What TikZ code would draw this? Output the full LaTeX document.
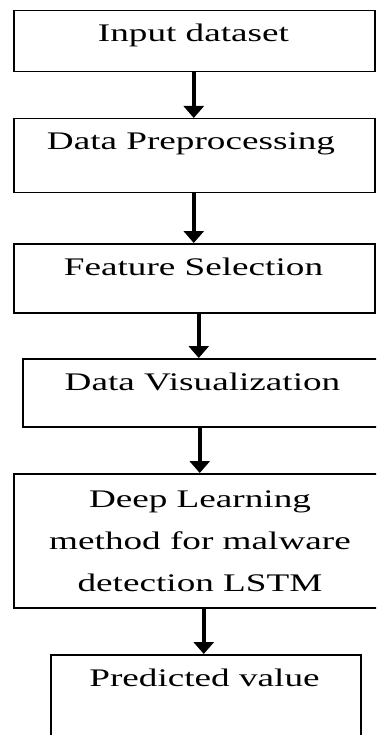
\documentclass[tikz,border=0pt]{standalone}
\usepackage{fontspec}
\setmainfont{Liberation Serif}
\newfontfamily\stretchserif[FakeStretch=1.47]{Liberation Serif}
\usetikzlibrary{arrows.meta}
\begin{document}
\begin{tikzpicture}[x=1pt,y=-1pt,
  box/.style={draw, line width=1.5pt, inner sep=0pt, anchor=north west},
  lbl/.style={font=\stretchserif\fontsize{25.3}{30}\selectfont, inner sep=0pt, anchor=base},
  arr/.style={line width=4.5pt, -{Triangle[width=20pt,length=12pt]}}]
\clip (0,0) rectangle (376,735);
\node[box, minimum width=361pt, minimum height=61pt] (b1) at (13,10) {};
\node[box, minimum width=361pt, minimum height=74pt] (b2) at (13,118) {};
\node[box, minimum width=361pt, minimum height=69pt] (b3) at (13,243) {};
\node[box, minimum width=361pt, minimum height=68pt] (b4) at (22,358) {};
\node[box, minimum width=374pt, minimum height=134pt] (b5) at (13,473) {};
\node[box, minimum width=310pt, minimum height=100pt] (b6) at (50,654) {};
\node[lbl] (t1) at (193.5,42) {Input dataset};
\node[lbl] (t2) at (191,150) {Data Preprocessing};
\node[lbl] (t3) at (193.5,275) {Feature Selection};
\node[lbl] (t4) at (202.5,390) {Data Visualization};
\node[lbl] (t5a) at (200,507) {Deep Learning};
\node[lbl] (t5b) at (200,549) {method for malware};
\node[lbl] (t5c) at (200,591) {detection LSTM};
\node[lbl] (t6) at (204.5,686) {Predicted value};
\path ([xshift=-0.5pt]b1.south) coordinate (s1)
      ([xshift=-0.5pt]b2.south) coordinate (s2)
      ([xshift=4.5pt]b3.south) coordinate (s3)
      ([xshift=-3.5pt]b4.south) coordinate (s4)
      ([xshift=3pt]b5.south) coordinate (s5);
\draw[arr] (s1) -- (s1 |- b2.north);
\draw[arr] (s2) -- (s2 |- b3.north);
\draw[arr] (s3) -- (s3 |- b4.north);
\draw[arr] (s4) -- (s4 |- b5.north);
\draw[arr] (s5) -- (s5 |- b6.north);
\end{tikzpicture}
\end{document}
